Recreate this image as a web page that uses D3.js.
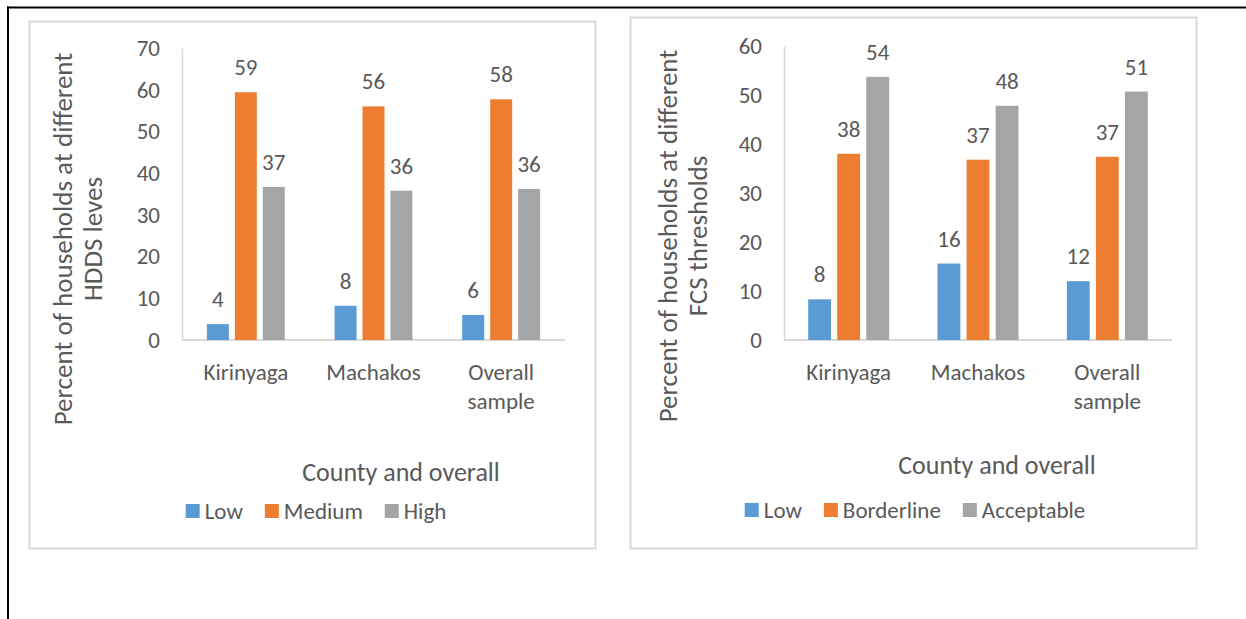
<!DOCTYPE html>
<html>
<head>
<meta charset="utf-8">
<script src="https://cdn.jsdelivr.net/npm/d3@7"></script>
<style>
  html, body { margin: 0; padding: 0; background: #fff; }
  svg { display: block; }
  text { font-family: Carlito, Calibri, Lato, sans-serif; fill: #595959; }
</style>
</head>
<body>
<svg id="chart" width="1246" height="619"></svg>
<script>
// ---- data ----
const categories = ["Kirinyaga", "Machakos", "Overall sample"];

const hddsSeries = ["Low", "Medium", "High"];
const hddsLow = [3.8, 8.2, 6.0];
const hddsMedium = [59.4, 56.0, 57.7];
const hddsHigh = [36.7, 35.8, 36.2];
const hddsTicks = [0, 10, 20, 30, 40, 50, 60, 70];
const hddsTitle = ["Percent of households at different", "HDDS leves"];

const fcsSeries = ["Low", "Borderline", "Acceptable"];
const fcsLow = [8.3, 15.6, 12.0];
const fcsBorderline = [38.0, 36.8, 37.4];
const fcsAcceptable = [53.7, 47.8, 50.7];
const fcsTicks = [0, 10, 20, 30, 40, 50, 60];
const fcsTitle = ["Percent of households at different", "FCS thresholds"];

const xTitle = "County and overall";
const colors = ["#5b9bd5", "#ed7d31", "#a5a5a5"];

// ---- drawing ----
const svg = d3.select("#chart");
const FONT = 23;
const TITLE_FONT = 26;
const YTITLE_FONT = 27;

// outer frame
svg.append("line").attr("x1", 7).attr("x2", 1246).attr("y1", 7.5).attr("y2", 7.5)
  .attr("stroke", "#000").attr("stroke-width", 2);
svg.append("line").attr("x1", 8).attr("x2", 8).attr("y1", 6.5).attr("y2", 619)
  .attr("stroke", "#000").attr("stroke-width", 2);

function drawChart(cfg) {
  const g = svg.append("g");
  // panel border
  g.append("rect").attr("x", cfg.panel[0]).attr("y", cfg.panel[1])
    .attr("width", cfg.panel[2]).attr("height", cfg.panel[3])
    .attr("fill", "#fff").attr("stroke", "#d9d9d9").attr("stroke-width", 2);

  const x = d3.scaleBand().domain(categories).range(cfg.xRange)
    .paddingInner(cfg.pad).paddingOuter(cfg.pad / 2);
  const xs = d3.scaleBand().domain(cfg.series).range([0, x.bandwidth()])
    .paddingInner(0.214).paddingOuter(0);
  const y = d3.scaleLinear().domain([0, d3.max(cfg.ticks)]).range(cfg.yRange);

  // y axis
  const ya = g.append("g").attr("transform", `translate(${cfg.xRange[0]},0)`)
    .call(d3.axisLeft(y).tickValues(cfg.ticks).tickSize(0).tickSizeOuter(0).tickPadding(22));
  ya.select(".domain").attr("stroke", "#d9d9d9").attr("stroke-width", 1.5);
  ya.selectAll("text").style("font-size", FONT + "px").attr("fill", "#595959")
    .style("font-family", "Carlito, Calibri, Lato, sans-serif");

  // baseline
  g.append("line").attr("x1", cfg.xRange[0]).attr("x2", cfg.xRange[1])
    .attr("y1", y(0)).attr("y2", y(0)).attr("stroke", "#d9d9d9").attr("stroke-width", 2);

  // bars
  const rows = categories.map((c, i) => cfg.series.map((s, j) => ({ c, s, j, v: cfg.values[j][i] })));
  const grp = g.selectAll(".grp").data(rows).enter().append("g")
    .attr("transform", (d, i) => `translate(${x(categories[i])},0)`);
  grp.selectAll("rect").data(d => d).enter().append("rect")
    .attr("x", d => xs(d.s)).attr("width", xs.bandwidth())
    .attr("y", d => y(d.v)).attr("height", d => y(0) - y(d.v))
    .attr("fill", d => colors[d.j]);
  grp.selectAll("text").data(d => d).enter().append("text")
    .attr("x", d => xs(d.s) + xs.bandwidth() / 2).attr("y", d => y(d.v) - 25)
    .attr("text-anchor", "middle").attr("dominant-baseline", "central")
    .style("font-size", FONT + "px")
    .text(d => d3.format(".0f")(d.v));

  // category labels
  categories.forEach(c => {
    const words = c === "Overall sample" ? ["Overall", "sample"] : [c];
    const t = g.append("text").attr("text-anchor", "middle").style("font-size", FONT + "px");
    words.forEach((w, k) => {
      t.append("tspan").attr("x", x(c) + x.bandwidth() / 2).attr("y", cfg.catY + k * 29)
        .attr("dominant-baseline", "central").text(w);
    });
  });

  // y title
  cfg.yTitle.forEach((line, k) => {
    g.append("text").attr("text-anchor", "middle").attr("dominant-baseline", "central")
      .attr("transform", `translate(${cfg.yTitleX[k]},${cfg.yTitleY}) rotate(-90)`)
      .style("font-size", YTITLE_FONT + "px").text(line);
  });

  // x title
  g.append("text").attr("x", cfg.xTitlePos[0]).attr("y", cfg.xTitlePos[1])
    .attr("text-anchor", "middle").attr("dominant-baseline", "central")
    .style("font-size", TITLE_FONT + "px").text(xTitle);

  // legend
  const lg = g.append("g");
  let cx = 0;
  cfg.series.forEach((s, j) => {
    lg.append("rect").attr("x", cx).attr("y", -7).attr("width", 14).attr("height", 14)
      .attr("fill", colors[j]);
    const t = lg.append("text").attr("x", cx + 19).attr("y", 0)
      .attr("dominant-baseline", "central").style("font-size", FONT + "px").text(s);
    cx += 19 + t.node().getComputedTextLength() + 22;
  });
  const lw = cx - 22;
  lg.attr("transform", `translate(${cfg.legendCenter - lw / 2},${cfg.legendY})`);
}

drawChart({
  panel: [29.5, 21.5, 566, 527],
  xRange: [182, 565], yRange: [340, 48], pad: 0.39,
  series: hddsSeries, values: [hddsLow, hddsMedium, hddsHigh], ticks: hddsTicks,
  yTitle: hddsTitle, yTitleX: [62, 92], yTitleY: 239,
  catY: 372, xTitlePos: [401, 472], legendCenter: 316, legendY: 511
});

drawChart({
  panel: [630.5, 17.5, 566, 531],
  xRange: [784, 1172], yRange: [340, 46], pad: 0.374,
  series: fcsSeries, values: [fcsLow, fcsBorderline, fcsAcceptable], ticks: fcsTicks,
  yTitle: fcsTitle, yTitleX: [667, 697], yTitleY: 236,
  catY: 372, xTitlePos: [997, 465], legendCenter: 915, legendY: 510
});
</script>
</body>
</html>
